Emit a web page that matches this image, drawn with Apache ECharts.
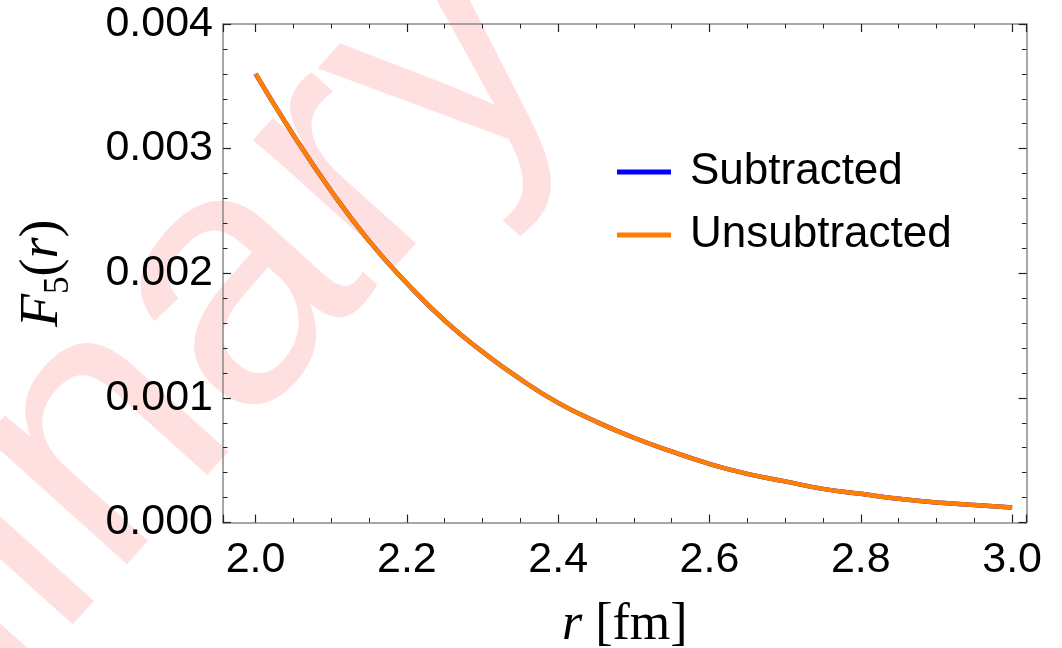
<!DOCTYPE html>
<html>
<head>
<meta charset="utf-8">
<script src="https://cdn.jsdelivr.net/npm/echarts@6/dist/echarts.min.js"></script>
<style>
  html, body { margin: 0; background: #fff; }
  #chart { width: 1062px; height: 648px; }
</style>
</head>
<body>
<div id="chart"></div>
<script>
// r in fm
const rValues = [2.00, 2.05, 2.10, 2.15, 2.20, 2.25, 2.30, 2.35, 2.40, 2.45, 2.50,
  2.55, 2.60, 2.65, 2.70, 2.75, 2.80, 2.85, 2.90, 2.95, 3.00];
const subtracted = [0.00360, 0.00311, 0.00266, 0.00226, 0.00192, 0.00162, 0.00137,
  0.00115, 0.00096, 0.00081, 0.00068, 0.00057, 0.00047, 0.00039, 0.00033, 0.00027,
  0.00023, 0.00019, 0.00016, 0.00014, 0.00012];
const unsubtracted = [0.00360, 0.00311, 0.00266, 0.00226, 0.00192, 0.00162, 0.00137,
  0.00115, 0.00096, 0.00081, 0.00068, 0.00057, 0.00047, 0.00039, 0.00033, 0.00027,
  0.00023, 0.00019, 0.00016, 0.00014, 0.00012];
const seriesNames = ["Subtracted", "Unsubtracted"];
const seriesColors = ["#0000ff", "#ff7f00"];
const xRange = [1.957, 3.019];
const yRange = [0, 0.004];

const SANS = '"Liberation Sans", Arial, sans-serif';
const SERIF = '"Liberation Serif", "Times New Roman", serif';

const chart = echarts.init(document.getElementById("chart"));

function pairs(vals) {
  return rValues.map((r, i) => [r, vals[i]]);
}

const frameLine = { show: true, onZero: false, lineStyle: { color: "#8a8a8a", width: 1.5 } };
const majorTick = { show: true, inside: true, length: 8, lineStyle: { color: "#222", width: 1.2 } };

function xAxisCfg(pos, labels) {
  return {
    type: "value",
    position: pos,
    min: xRange[0],
    max: xRange[1],
    splitNumber: 5,
    axisLine: frameLine,
    axisTick: majorTick,
    minorTick: { show: true, splitNumber: 4, length: 4.5, lineStyle: { color: "#222", width: 1 } },
    splitLine: { show: false },
    axisLabel: {
      show: labels,
      showMinLabel: false,
      showMaxLabel: false,
      margin: 16,
      color: "#000",
      fontFamily: SANS,
      fontSize: 43,
      formatter: (v) => v.toFixed(1),
    },
  };
}

function yAxisCfg(pos, labels) {
  return {
    type: "value",
    position: pos,
    min: yRange[0],
    max: yRange[1],
    interval: 0.001,
    axisLine: frameLine,
    axisTick: majorTick,
    minorTick: { show: true, splitNumber: 5, length: 4.5, lineStyle: { color: "#222", width: 1 } },
    splitLine: { show: false },
    axisLabel: {
      show: labels,
      margin: 10,
      color: "#000",
      fontFamily: SANS,
      fontSize: 43,
      formatter: (v) => v.toFixed(3),
    },
  };
}

const xBottom = xAxisCfg("bottom", true);
xBottom.name = "{i|r}{u| [fm]}";
xBottom.nameLocation = "middle";
xBottom.nameGap = 77;
xBottom.nameTextStyle = {
  rich: {
    i: { fontFamily: SERIF, fontStyle: "italic", fontSize: 52, color: "#000" },
    u: { fontFamily: SERIF, fontSize: 52, color: "#000" },
  },
};

const yLeft = yAxisCfg("left", true);
yLeft.name = "{f|F}{s|5}{p|(}{i|r}{p|)}";
yLeft.nameLocation = "middle";
yLeft.nameRotate = 90;
yLeft.nameGap = 146;
yLeft.nameTextStyle = {
  rich: {
    f: { fontFamily: SERIF, fontStyle: "italic", fontSize: 54, lineHeight: 68, color: "#000" },
    s: { fontFamily: SERIF, fontSize: 35, lineHeight: 36, verticalAlign: "top", padding: [32, 0, 0, 0], color: "#000" },
    p: { fontFamily: SERIF, fontSize: 54, lineHeight: 68, color: "#000" },
    i: { fontFamily: SERIF, fontStyle: "italic", fontSize: 54, lineHeight: 68, color: "#000" },
  },
};

const option = {
  animation: false,
  backgroundColor: "#fff",
  grid: { left: 223, right: 35.5, top: 24, bottom: 125.5, containLabel: false, outerBoundsMode: "none" },
  graphic: [
    {
      type: "text",
      x: 505,
      y: -4,
      z: -10,
      rotation: (48 * Math.PI) / 180,
      style: {
        text: "Preliminary",
        font: '360px "Liberation Sans", Arial, sans-serif',
        fill: "rgba(255,0,0,0.12)",
        textAlign: "right",
        textVerticalAlign: "middle",
      },
    },
  ],
  legend: {
    orient: "vertical",
    left: 612,
    top: 142,
    icon: "rect",
    itemWidth: 54,
    itemHeight: 5,
    itemGap: 13,
    data: seriesNames,
    textStyle: { fontFamily: SANS, fontSize: 44, color: "#000", lineHeight: 50, padding: [0, 0, 0, 14] },
  },
  xAxis: [xBottom, xAxisCfg("top", false)],
  yAxis: [yLeft, yAxisCfg("right", false)],
  series: [subtracted, unsubtracted].map((vals, i) => ({
    name: seriesNames[i],
    type: "line",
    data: pairs(vals),
    smooth: true,
    showSymbol: false,
    color: seriesColors[i],
    lineStyle: { width: 4.5, color: seriesColors[i] },
    z: 2 + i,
  })),
};

chart.setOption(option);
window.addEventListener("resize", () => chart.resize());
</script>
</body>
</html>
